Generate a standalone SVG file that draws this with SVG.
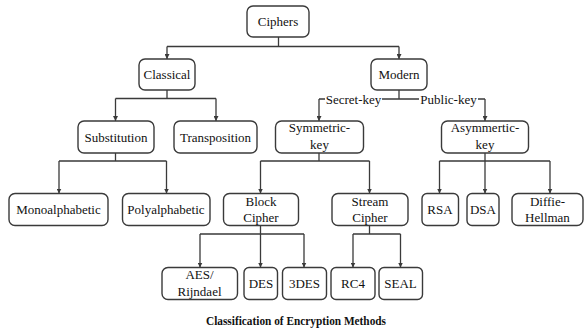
<svg xmlns="http://www.w3.org/2000/svg" width="585" height="330" viewBox="0 0 585 330">
<style>
.box{fill:#fff;stroke:#3a3a3a;stroke-width:1.4}
.t{font-family:"Liberation Serif","Times New Roman",serif;font-size:13px;fill:#111;text-anchor:middle}
.c{fill:none;stroke:#3a3a3a;stroke-width:1.3}
.cap{font-family:"Liberation Serif","Times New Roman",serif;font-size:13px;font-weight:bold;fill:#111;text-anchor:middle}
</style>
<defs>
<marker id="ah" viewBox="0 0 6 6" refX="6" refY="3" markerWidth="5" markerHeight="5" orient="auto" markerUnits="userSpaceOnUse">
<path d="M0,0 L6,3 L0,6 z" fill="#3a3a3a"/>
</marker>
</defs>
<rect width="585" height="330" fill="#fff"/>
<g id="connectors">
<path class="c" d="M278.5,37 V46.5 M167,46.5 H399"/>
<path class="c" marker-end="url(#ah)" d="M167,46.5 V59"/>
<path class="c" marker-end="url(#ah)" d="M399,46.5 V59"/>
<path class="c" d="M167,90 V98.5 M115.5,98.5 H216"/>
<path class="c" marker-end="url(#ah)" d="M115.5,98.5 V121"/>
<path class="c" marker-end="url(#ah)" d="M216,98.5 V121"/>
<path class="c" d="M399,90 V99 M319,99 H325 M382,99 H419 M478,99 H485"/>
<path class="c" marker-end="url(#ah)" d="M319,99 V121"/>
<path class="c" marker-end="url(#ah)" d="M485,99 V121"/>
<path class="c" d="M115.5,153 V161 M59,161 H166.5"/>
<path class="c" marker-end="url(#ah)" d="M59,161 V193.5"/>
<path class="c" marker-end="url(#ah)" d="M166.5,161 V193.5"/>
<path class="c" d="M319,153 V161 M260.5,161 H369.5"/>
<path class="c" marker-end="url(#ah)" d="M260.5,161 V193.5"/>
<path class="c" marker-end="url(#ah)" d="M369.5,161 V193.5"/>
<path class="c" d="M485,153 V161 M439.5,161 H550"/>
<path class="c" marker-end="url(#ah)" d="M439.5,161 V193.5"/>
<path class="c" marker-end="url(#ah)" d="M485,161 V193.5"/>
<path class="c" marker-end="url(#ah)" d="M550,161 V193.5"/>
<path class="c" d="M260.5,226 V234 M200,234 H304"/>
<path class="c" marker-end="url(#ah)" d="M200,234 V267.5"/>
<path class="c" marker-end="url(#ah)" d="M260.5,234 V267.5"/>
<path class="c" marker-end="url(#ah)" d="M304,234 V267.5"/>
<path class="c" d="M369.5,226 V234 M353,234 H400.5"/>
<path class="c" marker-end="url(#ah)" d="M353,234 V267.5"/>
<path class="c" marker-end="url(#ah)" d="M400.5,234 V267.5"/>
<text class="t" x="353.5" y="103.5">Secret-key</text>
<text class="t" x="448.5" y="103.5">Public-key</text>
</g>
<g id="ciphers"><rect class="box" x="247" y="6" width="62" height="31" rx="6"/><text class="t" x="278" y="26">Ciphers</text></g>
<g id="classical"><rect class="box" x="139" y="59" width="56" height="31" rx="6"/><text class="t" x="167" y="79">Classical</text></g>
<g id="modern"><rect class="box" x="371" y="59" width="56" height="31" rx="6"/><text class="t" x="399" y="79">Modern</text></g>
<g id="substitution"><rect class="box" x="78" y="121" width="76" height="32" rx="6"/><text class="t" x="116" y="141.5">Substitution</text></g>
<g id="transposition"><rect class="box" x="174" y="121" width="83" height="32" rx="6"/><text class="t" x="215.5" y="141.5">Transposition</text></g>
<g id="symmetric"><rect class="box" x="275.5" y="121" width="88" height="32" rx="6"/><text class="t" x="319.5" y="132">Symmetric-</text><text class="t" x="319.5" y="148.5">key</text></g>
<g id="asymmetric"><rect class="box" x="441.5" y="121" width="87" height="32" rx="6"/><text class="t" x="485" y="132">Asymmertic-</text><text class="t" x="485" y="148.5">key</text></g>
<g id="mono"><rect class="box" x="9" y="193.5" width="99" height="32" rx="6"/><text class="t" x="58.5" y="214">Monoalphabetic</text></g>
<g id="poly"><rect class="box" x="122.5" y="193.5" width="87.5" height="32" rx="6"/><text class="t" x="166" y="214">Polyalphabetic</text></g>
<g id="block"><rect class="box" x="223.5" y="193.5" width="75" height="32" rx="6"/><text class="t" x="261" y="205.5">Block</text><text class="t" x="261" y="222">Cipher</text></g>
<g id="stream"><rect class="box" x="332" y="193.5" width="76" height="32" rx="6"/><text class="t" x="370" y="205.5">Stream</text><text class="t" x="370" y="222">Cipher</text></g>
<g id="rsa"><rect class="box" x="422" y="193.5" width="36.5" height="32" rx="5"/><text class="t" x="440" y="214">RSA</text></g>
<g id="dsa"><rect class="box" x="467" y="193.5" width="32" height="32" rx="5"/><text class="t" x="483" y="214">DSA</text></g>
<g id="diffie"><rect class="box" x="512" y="193.5" width="71" height="32" rx="6"/><text class="t" x="547.5" y="205.5">Diffie-</text><text class="t" x="547.5" y="222">Hellman</text></g>
<g id="aes"><rect class="box" x="162" y="267.5" width="75.5" height="32" rx="6"/><text class="t" x="199.5" y="279">AES/</text><text class="t" x="199.5" y="295.5">Rijndael</text></g>
<g id="des"><rect class="box" x="244" y="267.5" width="33.5" height="32" rx="5"/><text class="t" x="261" y="288">DES</text></g>
<g id="3des"><rect class="box" x="282.5" y="267.5" width="44" height="32" rx="5"/><text class="t" x="304.5" y="288">3DES</text></g>
<g id="rc4"><rect class="box" x="331" y="267.5" width="44" height="32" rx="5"/><text class="t" x="353" y="288">RC4</text></g>
<g id="seal"><rect class="box" x="379" y="267.5" width="43.5" height="32" rx="5"/><text class="t" x="400.5" y="288">SEAL</text></g>
<text class="cap" x="296" y="325" textLength="180" lengthAdjust="spacingAndGlyphs">Classification of Encryption Methods</text>
</svg>
